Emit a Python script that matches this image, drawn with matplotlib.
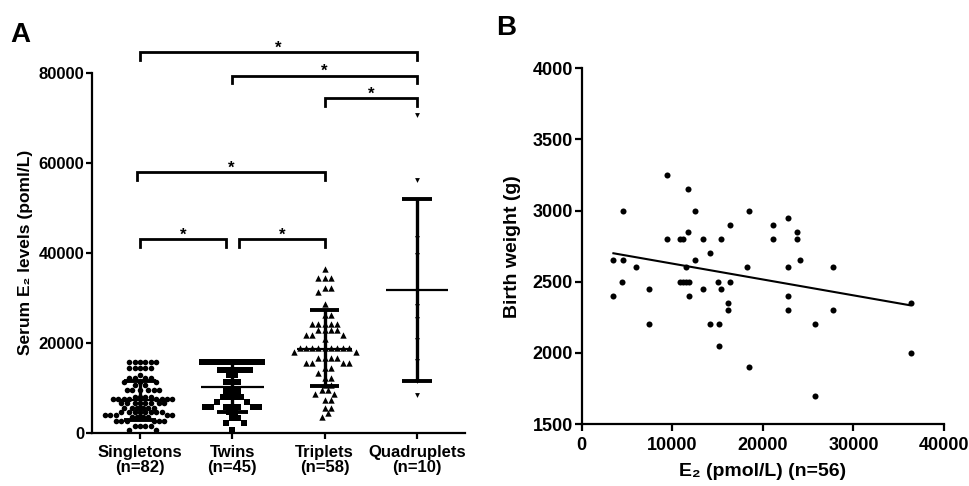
import numpy as np
import matplotlib
matplotlib.use("Agg")
import matplotlib.pyplot as plt

plt.rcParams['font.family'] = ['Liberation Sans', 'DejaVu Sans']
plt.rcParams['font.weight'] = 'bold'

# ---------------- Panel A data ----------------
groups = ["Singletons\n(n=82)", "Twins\n(n=45)", "Triplets\n(n=58)", "Quadruplets\n(n=10)"]

singletons = ([15800]*6 + [14400]*5 + [12800]*1 + [12100]*4 + [11200]*3 + [10500]*2 +
              [9500]*6 + [8000]*4 + [7500]*8 + [6500]*8 + [5500]*6 + [4500]*8 +
              [3900]*5 + [3400]*4 + [2700]*6 + [1600]*4 + [700]*2)
twins = ([15800]*11 + [14000]*6 + [12800]*2 + [11300]*3 + [9200]*3 + [8000]*4 +
         [6900]*2 + [5800]*7 + [4600]*2 + [3300]*2 + [2200]*2 + [500]*1)
triplets = ([36400]*1 + [34400]*3 + [32200]*2 + [31200]*1 + [28500]*1 + [26100]*2 +
            [24200]*5 + [22800]*4 + [21800]*3 + [20900]*1 + [18800]*9 + [18000]*2 +
            [16500]*4 + [15400]*4 + [14300]*2 + [13200]*1 + [12100]*2 + [10700]*2 +
            [9500]*2 + [8500]*2 + [7300]*2 + [5600]*2 + [4300]*1 + [3400]*1)
quadruplets = [70600, 56100, 43200, 39500, 28100, 25300, 20600, 16000, 11600, 8400]

group_means = [7200, 10200, 18700, 31700]
group_sd_hi = [11600, 15800, 27300, 51900]
group_sd_lo = [2800, 4600, 10400, 11500]

# significance brackets (start category, end category, height)
br_x1 = [0, 1, 2, -0.03, 0, 1.07]
br_x2 = [3, 3, 3, 2, 0.93, 2]
br_y = [84500, 79300, 74300, 57900, 43000, 43000]
br_label = ["*", "*", "*", "*", "*", "*"]

# ---------------- Panel B data ----------------
e2_vals = [3490, 3490, 4600, 4600, 4500, 5960, 7430, 7430, 9410, 9410,
           10900, 11200, 11700, 11700, 11500, 10850, 11200, 11500, 11900, 11800,
           12500, 12500, 13400, 13400, 14200, 14200, 15000, 15200, 15200, 15400,
           15400, 16200, 16200, 16400, 16400, 18200, 18500, 18500, 21100, 21100,
           22800, 22800, 22800, 22800, 23800, 23800, 24100, 25800, 25800, 27800,
           27800, 36400, 36400]
bw_vals = [2650, 2400, 3000, 2650, 2500, 2600, 2450, 2200, 3250, 2800,
           2800, 2800, 3150, 2850, 2600, 2500, 2500, 2500, 2500, 2400,
           3000, 2650, 2800, 2450, 2700, 2200, 2500, 2200, 2050, 2800,
           2450, 2350, 2300, 2900, 2500, 2600, 3000, 1900, 2900, 2800,
           2950, 2600, 2400, 2300, 2850, 2800, 2650, 2200, 1700, 2600,
           2300, 2350, 2000]
fit_x = [3500, 36200]
fit_y = [2700, 2335]

# ---------------- Figure ----------------
W, H = 969, 486
fig = plt.figure(figsize=(W/100, H/100), dpi=100)
axA = fig.add_axes([92/W, 1-432.7/H, (465-92)/W, (432.7-72.7)/H])
axB = fig.add_axes([581.7/W, 1-424/H, (944-581.7)/W, (424-68.3)/H])

for ax in (axA, axB):
    for s in ("top", "right"):
        ax.spines[s].set_visible(False)
    for s in ("left", "bottom"):
        ax.spines[s].set_linewidth(1.6)

axA.set_xlim(-0.52, 3.52)
axA.set_ylim(0, 80000)
axA.set_yticks([0, 20000, 40000, 60000, 80000])
axA.set_xticks(range(4))
axA.set_xticklabels(groups, fontsize=12, fontweight='bold', linespacing=1.0)
axA.tick_params(axis='y', labelsize=12, width=1.6, length=4, pad=1.5)
axA.tick_params(axis='x', width=1.6, length=4.5, pad=4)
for lbl in axA.get_yticklabels():
    lbl.set_fontweight('bold')
axA.set_ylabel("Serum E\u2082 levels (poml/L)", fontsize=12.5, fontweight='bold', labelpad=4)


def swarm_x(ax, xc, vals, d_px):
    vals = np.asarray(vals, dtype=float)
    trans = ax.transData
    pts = trans.transform(np.column_stack([np.full(len(vals), xc), vals]))
    ys = pts[:, 1]
    x0 = pts[0, 0]
    step = d_px / 2
    cands = [0.0]
    for j in range(1, 60):
        cands += [j*step, -j*step]
    placed = []
    offs = np.zeros(len(vals))
    for i in np.argsort(-vals, kind='stable'):
        for c in cands:
            ok = True
            for (px, py) in placed:
                if (c-px)**2 + (ys[i]-py)**2 < (d_px*0.97)**2:
                    ok = False
                    break
            if ok:
                break
        placed.append((c, ys[i]))
        offs[i] = c
    xs = trans.inverted().transform(np.column_stack([x0 + offs, ys]))[:, 0]
    return xs, vals


series = [singletons, twins, triplets, quadruplets]
markers = ['o', 's', '^', 'v']
sizes = [16, 16, 21, 12]
spacing = [5.4, 6.0, 6.2, 5.4]
for i, (vals, m, sz, dd) in enumerate(zip(series, markers, sizes, spacing)):
    xs, ys = swarm_x(axA, i, vals, dd)
    axA.scatter(xs, ys, marker=m, s=sz, color='black', linewidths=0, zorder=2)

mean_half = [0.30, 0.34, 0.30, 0.34]
cap_half = [0.17, 0.17, 0.16, 0.16]
for i in range(4):
    axA.plot([i, i], [group_sd_lo[i], group_sd_hi[i]], color='black', lw=2.4, zorder=3,
             solid_capstyle='butt')
    axA.plot([i-cap_half[i], i+cap_half[i]], [group_sd_hi[i]]*2, color='black', lw=2.8,
             zorder=3, solid_capstyle='butt')
    axA.plot([i-cap_half[i], i+cap_half[i]], [group_sd_lo[i]]*2, color='black', lw=2.8,
             zorder=3, solid_capstyle='butt')
    axA.plot([i-mean_half[i], i+mean_half[i]], [group_means[i]]*2, color='black', lw=1.6,
             zorder=3, solid_capstyle='butt')

leg = 1700
for x1, x2, y, lab in zip(br_x1, br_x2, br_y, br_label):
    axA.plot([x1, x1, x2, x2], [y-leg, y, y, y-leg], color='black', lw=2.0,
             clip_on=False, solid_joinstyle='miter', zorder=3)
    axA.text((x1+x2)/2, y-700, lab, ha='center', va='bottom', fontsize=12,
             fontweight='bold', clip_on=False)

# ---------------- Panel B ----------------
axB.set_xlim(0, 40000)
axB.set_ylim(1500, 4000)
axB.set_xticks([0, 10000, 20000, 30000, 40000])
axB.set_yticks([1500, 2000, 2500, 3000, 3500, 4000])
axB.tick_params(axis='both', labelsize=13, width=1.6, length=5)
axB.tick_params(axis='y', pad=1.5)
axB.tick_params(axis='x', pad=4)
for lbl in axB.get_xticklabels() + axB.get_yticklabels():
    lbl.set_fontweight('bold')
axB.scatter(e2_vals, bw_vals, s=19, color='black', linewidths=0, zorder=3, clip_on=False)
axB.plot(fit_x, fit_y, color='black', lw=1.5, zorder=2)
axB.set_xlabel("E\u2082 (pmol/L) (n=56)", fontsize=14, fontweight='bold', labelpad=7)
axB.set_ylabel("Birth weight (g)", fontsize=14, fontweight='bold', labelpad=8)

fig.text(10/W, 1-42/H, "A", fontsize=20, fontweight='bold', va='baseline', ha='left')
fig.text(496/W, 1-35/H, "B", fontsize=20, fontweight='bold', va='baseline', ha='left')

fig.savefig("out.png", dpi=100)
